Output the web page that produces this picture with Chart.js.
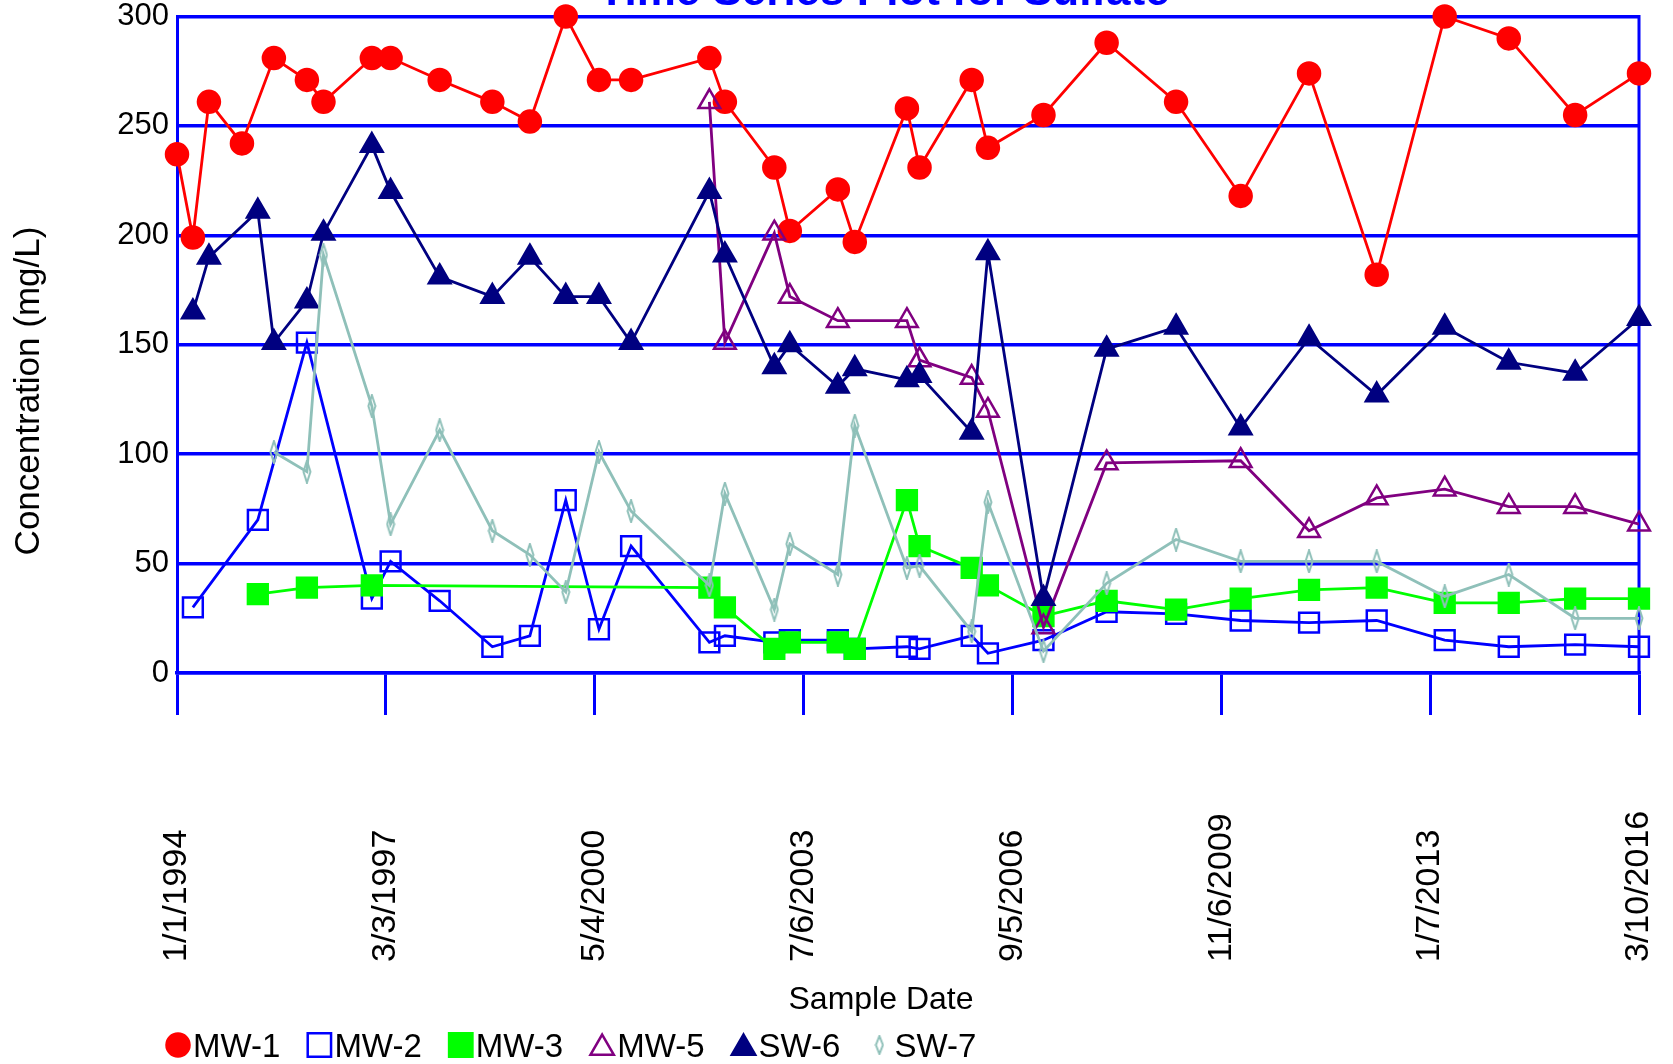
<!DOCTYPE html>
<html>
<head>
<meta charset="utf-8">
<title>Time Series Plot for Sulfate</title>
<script src="https://cdn.jsdelivr.net/npm/chart.js@4.4.1/dist/chart.umd.min.js"></script>
<style>
  html, body { margin: 0; padding: 0; background: #ffffff; }
  #wrap { width: 1673px; height: 1064px; }
</style>
</head>
<body>
<div id="wrap"><canvas id="sulfateChart" width="1673" height="1064"></canvas></div>
<script>
const FONT = '"Liberation Sans", Arial, Helvetica, sans-serif';
const BLUE = '#0000ff';

// Sampling events (one column per date, null = not sampled)
const sampleDates = [
    '1994-01-01', '1994-03-30', '1994-06-27', '1994-12-27', '1995-03-25', '1995-06-22',
    '1995-12-22', '1996-03-23', '1996-12-16', '1997-03-30', '1997-12-27', '1998-10-15',
    '1999-05-11', '1999-11-26', '2000-05-28', '2000-11-22', '2002-01-30', '2002-04-26',
    '2003-01-25', '2003-04-21', '2004-01-12', '2004-04-15', '2005-01-29', '2005-04-09',
    '2006-01-23', '2006-04-23', '2007-02-25', '2008-02-10', '2009-03-01', '2010-02-22',
    '2011-03-08', '2012-03-17', '2013-03-29', '2014-03-19', '2015-03-22', '2016-03-10'
];

const mw1 = [237, 199, 261, 242, null, 281, 271, 261, 281, 281, 271, 261,
             252, 300, 271, 271, 281, 261, 231, 202, 221, 197, 258, 231,
             271, 240, 255, 288, 261, 218, 274, 182, 300, 290, 255, 274];

const mw2 = [null, 30, null, null, 70, null, 151, null, 34, 51, 33, 12,
             17, 79, 20, 58, 14, 17, 14, 15, 15, 11, 12, 11,
             17, 9, 15, 28, 27, 24, 23, 24, 15, 12, 13, 12];

const mw3 = [null, null, null, null, 36, null, 39, null, 40, null, null, null,
             null, null, null, null, 39, 30, 11, 14, 14, 11, 79, 58,
             48, 40, 26, 33, 29, 34, 38, 39, 32, 32, 34, 34];

const mw5 = [null, null, null, null, null, null, null, null, null, null, null, null,
             null, null, null, null, 261, 151, 201, 172, 161, null, 161, 143,
             135, 120, 21, 96, null, 97, 65, 80, 84, 76, 76, 68];

const sw6 = [null, 165, 190, null, 211, 151, 170, 201, 241, 220, 181, 172,
             190, 172, 172, 151, 220, 191, 140, 150, 131, 139, 134, 136,
             110, 192, 34, 148, 158, 112, 153, 127, 158, 142, 137, 162];

const sw7 = [null, null, null, null, null, 101, 92, 191, 122, 68, 111, 65,
             54, 37, 101, 74, 40, 82, 29, 59, 45, 113, 48, 49,
             19, 78, 10, 41, 61, 51, 51, 51, 35, 45, 25, 25];

const seriesNames = ['MW-1', 'MW-2', 'MW-3', 'MW-5', 'SW-6', 'SW-7'];

const xTickLabels = ['1/1/1994', '3/3/1997', '5/4/2000', '7/6/2003',
                     '9/5/2006', '11/6/2009', '1/7/2013', '3/10/2016'];
const yMin = 0, yMax = 300, yStep = 50;

const titleText = 'Time Series Plot for Sulfate';
const xTitle = 'Sample Date';
const yTitle = 'Concentration (mg/L)';

function isoToDays(s) {
    const [y, m, d] = s.split('-').map(Number);
    return Date.UTC(y, m - 1, d) / 86400000;
}
function mdyToDays(s) {
    const [m, d, y] = s.split('/').map(Number);
    return Date.UTC(y, m - 1, d) / 86400000;
}
function toPoints(values) {
    return sampleDates
        .map((d, i) => ({ x: isoToDays(d), y: values[i] }))
        .filter(p => p.y !== null);
}

// narrow open diamond used for SW-7
function thinDiamond(w, h, color) {
    const c = document.createElement('canvas');
    c.width = w; c.height = h;
    const g = c.getContext('2d');
    g.strokeStyle = color;
    g.lineWidth = 2;
    g.beginPath();
    g.moveTo(w / 2, 1);
    g.lineTo(w - 1.5, h / 2);
    g.lineTo(w / 2, h - 1);
    g.lineTo(1.5, h / 2);
    g.closePath();
    g.stroke();
    return c;
}

const TEAL = '#8fc0b9';
const diamondMark = thinDiamond(10, 24, TEAL);
const diamondLegend = thinDiamond(10, 20, TEAL);

const styles = [
    { color: '#ff0000', fill: '#ff0000', pointStyle: 'circle', radius: 11, legendRadius: 11.5 },
    { color: BLUE, fill: 'rgba(0,0,0,0)', pointStyle: 'rect', radius: 14, legendRadius: 16.5 },
    { color: '#00ff00', fill: '#00ff00', pointStyle: 'rect', radius: 14, legendRadius: 16.5 },
    { color: '#800080', fill: 'rgba(0,0,0,0)', pointStyle: 'triangle', radius: 12.5, legendRadius: 13.5 },
    { color: '#000080', fill: '#000080', pointStyle: 'triangle', radius: 12.5, legendRadius: 13.5 },
    { color: TEAL, fill: TEAL, pointStyle: diamondMark, radius: 6, legendStyle: diamondLegend, legendRadius: 6 }
];

const allValues = [mw1, mw2, mw3, mw5, sw6, sw7];

const datasets = allValues.map((vals, i) => ({
    label: seriesNames[i],
    data: toPoints(vals),
    borderColor: styles[i].color,
    backgroundColor: styles[i].fill,
    borderWidth: 2.8,
    pointStyle: styles[i].pointStyle,
    pointRadius: styles[i].radius,
    pointBorderColor: styles[i].color,
    pointBackgroundColor: styles[i].fill,
    pointBorderWidth: 2.5,
    tension: 0,
    clip: false,
    order: allValues.length - i
}));

const tickDays = xTickLabels.map(mdyToDays);

const decorations = {
    id: 'decorations',
    beforeDatasetsDraw(chart) {
        const { ctx, chartArea: a } = chart;
        ctx.save();
        ctx.strokeStyle = BLUE;
        ctx.lineWidth = 3;
        ctx.beginPath();
        ctx.moveTo(a.right, a.top - 1.5);
        ctx.lineTo(a.right, a.bottom);
        ctx.stroke();
        ctx.restore();
    },
    afterDraw(chart) {
        const { ctx, scales: { x } } = chart;
        ctx.save();

        // chart title (runs off the top edge)
        ctx.fillStyle = BLUE;
        ctx.font = 'bold 44px ' + FONT;
        ctx.textAlign = 'center';
        ctx.textBaseline = 'alphabetic';
        ctx.fillText(titleText, 884, 5);

        // y axis title
        ctx.fillStyle = '#000000';
        ctx.font = '35px ' + FONT;
        ctx.save();
        ctx.translate(29, 391);
        ctx.rotate(-Math.PI / 2);
        ctx.textAlign = 'center';
        ctx.textBaseline = 'middle';
        ctx.fillText(yTitle, 0, 0);
        ctx.restore();

        // date labels, vertical, reading upward from a common baseline
        ctx.font = '34px ' + FONT;
        tickDays.forEach((d, i) => {
            ctx.save();
            ctx.translate(x.getPixelForValue(d), 962);
            ctx.rotate(-Math.PI / 2);
            ctx.textAlign = 'left';
            ctx.textBaseline = 'middle';
            ctx.fillText(xTickLabels[i], 0, 0);
            ctx.restore();
        });

        // x axis title
        ctx.font = '32px ' + FONT;
        ctx.textAlign = 'center';
        ctx.textBaseline = 'alphabetic';
        ctx.fillText(xTitle, 881, 1009);

        // legend row
        ctx.font = '33px ' + FONT;
        ctx.textAlign = 'left';
        let lx = 166;
        const markY = 1045;
        chart.data.datasets.forEach((ds, i) => {
            const st = styles[i];
            const cx = lx + 12;
            ctx.save();
            ctx.strokeStyle = st.color;
            ctx.fillStyle = st.fill;
            ctx.lineWidth = 2.5;
            const yOff = st.pointStyle === 'triangle' ? 3 : 0;
            Chart.helpers.drawPoint(ctx, {
                pointStyle: st.legendStyle || st.pointStyle,
                radius: st.legendRadius,
                rotation: 0,
                borderWidth: 2.5
            }, cx, markY + yOff);
            ctx.restore();
            ctx.fillStyle = '#000000';
            ctx.fillText(ds.label, lx + 27, 1057);
            lx += 27 + ctx.measureText(ds.label).width + 27;
        });

        ctx.restore();
    }
};

new Chart(document.getElementById('sulfateChart'), {
    type: 'line',
    data: { datasets },
    options: {
        responsive: false,
        animation: false,
        devicePixelRatio: 1,
        layout: { padding: { top: 15, right: 34, left: 0, bottom: 0 } },
        plugins: {
            legend: { display: false },
            title: { display: false },
            tooltip: { enabled: false }
        },
        scales: {
            x: {
                type: 'linear',
                min: tickDays[0],
                max: tickDays[tickDays.length - 1],
                afterBuildTicks: scale => {
                    scale.ticks = tickDays.map(v => ({ value: v }));
                },
                afterFit: scale => {
                    scale.height = 391;
                    scale.paddingLeft = 0;
                    scale.paddingRight = 0;
                },
                ticks: { display: false },
                grid: {
                    drawOnChartArea: false,
                    drawTicks: true,
                    tickLength: 42,
                    color: BLUE,
                    lineWidth: 3
                },
                border: { display: true, color: BLUE, width: 3.5 }
            },
            y: {
                min: yMin,
                max: yMax,
                afterFit: scale => {
                    scale.width = 177;
                    scale.paddingTop = 0;
                    scale.paddingBottom = 0;
                },
                ticks: {
                    stepSize: yStep,
                    color: '#000000',
                    padding: 8,
                    font: { family: FONT, size: 31 }
                },
                grid: {
                    color: BLUE,
                    lineWidth: 3.5,
                    drawTicks: false
                },
                border: { display: true, color: BLUE, width: 3 }
            }
        }
    },
    plugins: [decorations]
});
</script>
</body>
</html>
